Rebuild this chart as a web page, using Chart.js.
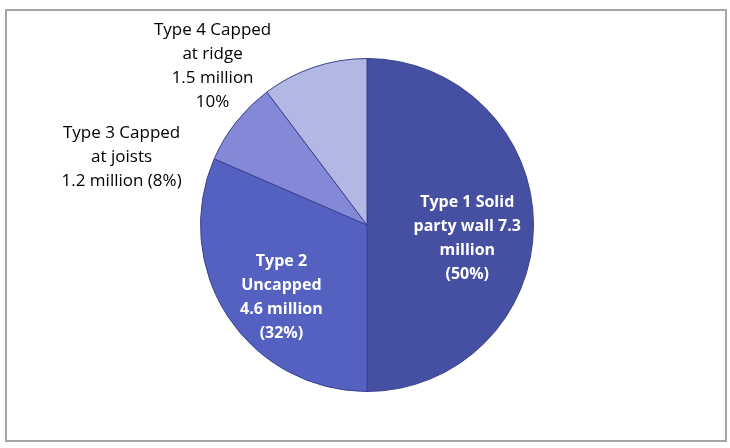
<!DOCTYPE html>
<html>
<head>
<meta charset="utf-8">
<script src="https://cdn.jsdelivr.net/npm/chart.js@4/dist/chart.umd.min.js"></script>
<style>
  html, body { margin: 0; padding: 0; background: #fff; }
  #wrap { width: 730px; height: 448px; }
</style>
</head>
<body>
<div id="wrap"><canvas id="pieCanvas" width="730" height="448"></canvas></div>
<script>
// data (millions of homes)
var categories = ["Type 1 Solid party wall", "Type 2 Uncapped", "Type 3 Capped at joists", "Type 4 Capped at ridge"];
var values = [7.3, 4.6, 1.2, 1.5];
// label templates, {v} = value, {p} = percent
var labelTemplates = [
    ["Type 1 Solid", "party wall {v}", "million", "({p}%)"],
    ["Type 2", "Uncapped", "{v} million", "({p}%)"],
    ["Type 3 Capped", "at joists", "{v} million ({p}%)"],
    ["Type 4 Capped", "at ridge", "{v} million", "{p}%"]
];
var sliceColors = ['#4650a2', '#5561c1', '#8389d6', '#b3b7e3'];

// label placement relative to the slice's tooltip point
var labelOffsets = [[17, 13], [-16, 27], [-180, -16], [-128, -80]];
var labelInside = [true, true, false, false];

var total = values.reduce(function(a, b) { return a + b; }, 0);

var framePlugin = {
    id: 'frame',
    beforeDraw: function(chart) {
        var ctx = chart.ctx;
        ctx.save();
        ctx.fillStyle = '#ffffff';
        ctx.fillRect(0, 0, chart.width, chart.height);
        ctx.strokeStyle = '#a6a6a6';
        ctx.lineWidth = 2;
        ctx.strokeRect(6, 10, 720, 431);
        ctx.restore();
    }
};

var labelPlugin = {
    id: 'sliceLabels',
    afterDatasetsDraw: function(chart) {
        var ctx = chart.ctx;
        var meta = chart.getDatasetMeta(0);
        ctx.save();
        ctx.textAlign = 'center';
        ctx.textBaseline = 'middle';
        meta.data.forEach(function(arc, i) {
            var pos = arc.tooltipPosition();
            var cx = pos.x + labelOffsets[i][0];
            var cy = pos.y + labelOffsets[i][1];
            var pct = Math.round(values[i] / total * 100);
            var lines = labelTemplates[i].map(function(t) {
                return t.replace('{v}', values[i]).replace('{p}', pct);
            });
            if (labelInside[i]) {
                ctx.font = 'bold 16px "Open Sans"';
                ctx.fillStyle = '#ffffff';
            } else {
                ctx.font = '17px "Open Sans"';
                ctx.fillStyle = '#000000';
            }
            var lh = 24;
            var y0 = cy - (lines.length - 1) * lh / 2;
            lines.forEach(function(line, j) {
                ctx.fillText(line, cx, y0 + j * lh);
            });
        });
        ctx.restore();
    }
};

var ctx = document.getElementById('pieCanvas').getContext('2d');
var myPieChart = new Chart(ctx, {
    type: 'pie',
    data: {
        labels: categories,
        datasets: [{
            data: values,
            backgroundColor: sliceColors,
            borderColor: '#3a4190',
            borderWidth: 1
        }]
    },
    options: {
        responsive: false,
        animation: false,
        layout: { padding: { left: 200, right: 196, top: 57, bottom: 55 } },
        plugins: {
            legend: { display: false },
            tooltip: { enabled: false }
        }
    },
    plugins: [framePlugin, labelPlugin]
});
</script>
</body>
</html>
